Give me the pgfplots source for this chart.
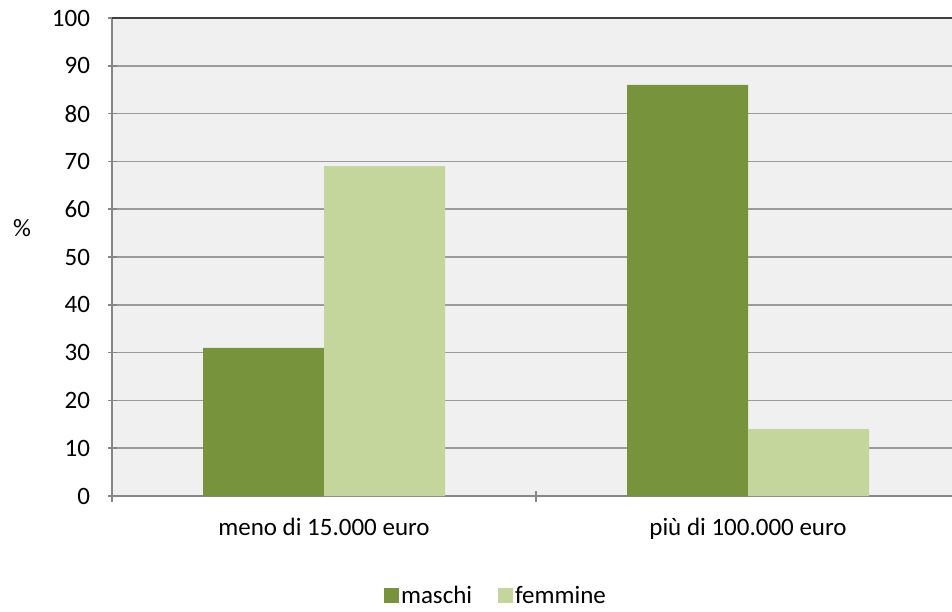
\documentclass[border=0pt]{standalone}
\usepackage{fontspec}
\setmainfont{Carlito}
\usepackage{pgfplots}
\pgfplotsset{compat=1.18}
\definecolor{maschi}{RGB}{119,147,60}
\definecolor{femmine}{RGB}{196,214,155}
\definecolor{bgc}{RGB}{240,240,240}
\definecolor{gridc}{RGB}{155,155,155}
\definecolor{axisc}{RGB}{134,134,134}
\begin{document}
\begin{tikzpicture}[font=\fontsize{25}{30}\selectfont]
\path[use as bounding box] (0,0) rectangle (952pt,611pt);
\begin{axis}[
  at={(112pt,115pt)}, anchor=south west,
  scale only axis, width=848pt, height=478pt,
  xmin=-0.5, xmax=1.5, ymin=0, ymax=100,
  enlargelimits=false,
  ybar=0pt, bar width=121pt,
  xtick={0,1},
  xticklabels={meno di 15.000 euro, più di 100.000 euro},
  minor xtick={-0.5,0.5,1.5},
  ytick={0,10,...,100},
  major x tick style={draw=none},
  minor tick length=11pt,
  major tick length=9pt,
  tick align=outside,
  tick style={axisc, line width=1.5pt},
  xticklabel style={yshift=-14pt},
  yticklabel style={xshift=-14pt},
  ymajorgrids,
  major grid style={gridc, line width=1.6pt},
  axis x line=bottom, axis y line=left,
  axis line style={-, axisc, line width=1.5pt},
  axis background/.style={fill=bgc},
  /pgf/number format/assume math mode=true,
  ylabel={\%},
  ylabel style={rotate=-90, at={(rel axis cs:-0.106,0.5607)}, anchor=center},
  legend columns=2,
  legend style={at={(rel axis cs:0.4528,-0.209)}, anchor=center, draw=none, fill=none,
    /tikz/every even column/.append style={column sep=24pt}},
  legend image code/.code={\fill[#1] (0pt,-7.5pt) rectangle (15pt,7.5pt);},
]
\addplot[fill=maschi, draw=none] coordinates {(0,31) (1,86)};
\addplot[fill=femmine, draw=none] coordinates {(0,69) (1,14)};
\legend{maschi, femmine}
\draw[black!75, line width=1.5pt] (rel axis cs:0,1) -- (rel axis cs:1,1);
\end{axis}
\end{tikzpicture}
\end{document}
